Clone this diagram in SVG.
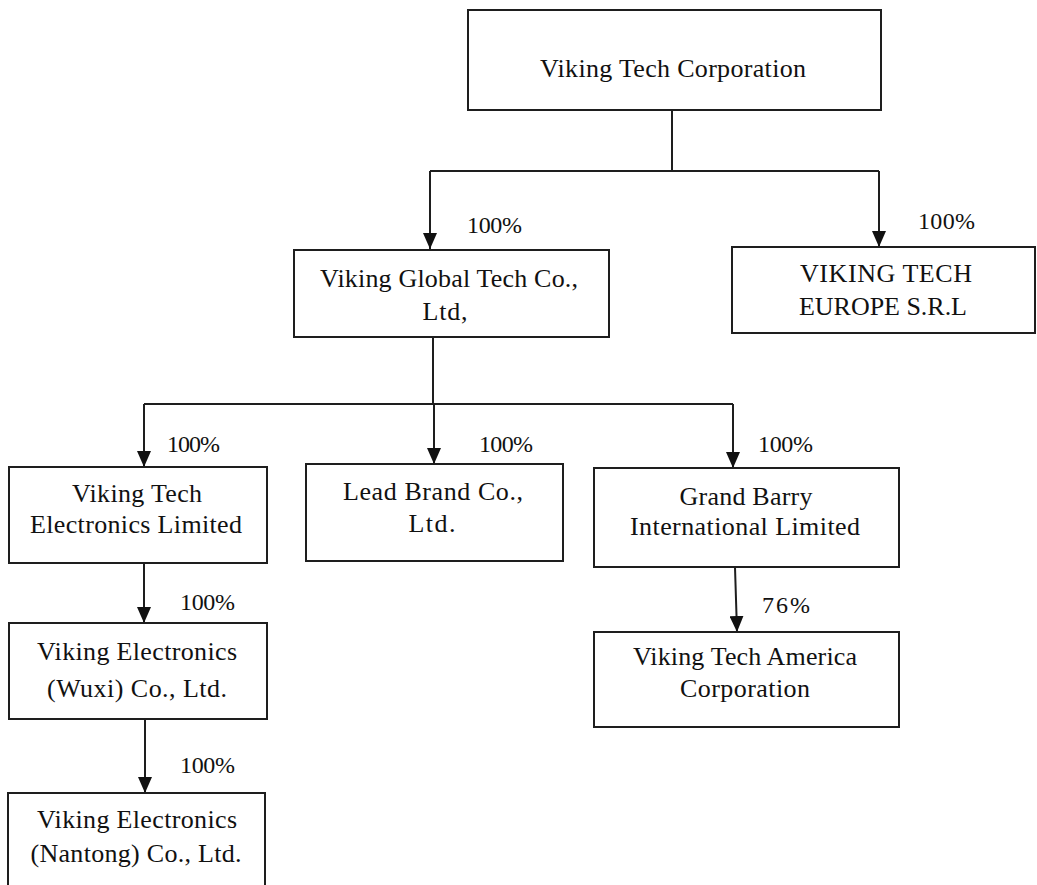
<svg xmlns="http://www.w3.org/2000/svg" width="1037" height="885" viewBox="0 0 1037 885">
<style>
  .box { fill: #ffffff; stroke: #1e1e1e; stroke-width: 2; }
  .t { font-family: "Liberation Serif", "Times New Roman", serif; font-size: 26px; fill: #111111; text-anchor: middle; }
  .p { font-family: "Liberation Serif", "Times New Roman", serif; font-size: 24px; fill: #111111; }
  .c { fill: none; stroke: #1e1e1e; stroke-width: 2; }
</style>
<defs>
  <marker id="arr" viewBox="0 -7 16 14" refX="16" refY="0" markerWidth="16" markerHeight="14" markerUnits="userSpaceOnUse" orient="auto">
    <path d="M0,-7 L16,0 L0,7 Z" fill="#111111"/>
  </marker>
</defs>
<rect width="1037" height="885" fill="#ffffff"/>

<g id="connectors">
  <path class="c" d="M672,110 V171 M430,171 H879"/>
  <path class="c" d="M430,171 V249" marker-end="url(#arr)"/>
  <path class="c" d="M879,171 V247" marker-end="url(#arr)"/>
  <path class="c" d="M433,337 V404 M144,404 H733"/>
  <path class="c" d="M144,404 V467" marker-end="url(#arr)"/>
  <path class="c" d="M434,404 V464" marker-end="url(#arr)"/>
  <path class="c" d="M733,404 V468" marker-end="url(#arr)"/>
  <path class="c" d="M144,563 V623" marker-end="url(#arr)"/>
  <path class="c" d="M145,719 V793" marker-end="url(#arr)"/>
  <path class="c" d="M735,567 L737,632" marker-end="url(#arr)"/>
  <text class="p" x="467" y="233" textLength="55">100%</text>
  <text class="p" x="918" y="229" textLength="57">100%</text>
  <text class="p" x="167" y="452" textLength="53">100%</text>
  <text class="p" x="479" y="452" textLength="54">100%</text>
  <text class="p" x="758" y="452" textLength="55">100%</text>
  <text class="p" x="180" y="610" textLength="55">100%</text>
  <text class="p" x="180" y="773" textLength="55">100%</text>
  <text class="p" x="762" y="613" textLength="48">76%</text>
</g>

<g id="viking-tech-corporation">
  <rect class="box" x="468" y="10" width="413" height="100"/>
  <text class="t" x="673" y="77" textLength="266">Viking Tech Corporation</text>
</g>

<g id="viking-global-tech">
  <rect class="box" x="294" y="250" width="315" height="87"/>
  <text class="t" x="449" y="287" textLength="258">Viking  Global Tech Co.,</text>
  <text class="t" x="445" y="320" textLength="45">Ltd,</text>
</g>

<g id="viking-tech-europe">
  <rect class="box" x="732" y="247" width="303" height="86"/>
  <text class="t" x="886" y="282" textLength="172">VIKING TECH</text>
  <text class="t" x="883" y="315" textLength="168">EUROPE S.R.L</text>
</g>

<g id="viking-tech-electronics">
  <rect class="box" x="9" y="467" width="258" height="96"/>
  <text class="t" x="137" y="502" textLength="130">Viking Tech</text>
  <text class="t" x="136" y="533" textLength="212">Electronics Limited</text>
</g>

<g id="lead-brand">
  <rect class="box" x="306" y="464" width="257" height="97"/>
  <text class="t" x="433" y="500" textLength="180">Lead Brand Co.,</text>
  <text class="t" x="432" y="532" textLength="47">Ltd.</text>
</g>

<g id="grand-barry">
  <rect class="box" x="594" y="468" width="305" height="99"/>
  <text class="t" x="746" y="505" textLength="133">Grand Barry</text>
  <text class="t" x="745" y="535" textLength="230">International Limited</text>
</g>

<g id="viking-electronics-wuxi">
  <rect class="box" x="9" y="623" width="258" height="96"/>
  <text class="t" x="137" y="660" textLength="200">Viking Electronics</text>
  <text class="t" x="137" y="697" textLength="180">(Wuxi) Co., Ltd.</text>
</g>

<g id="viking-electronics-nantong">
  <rect class="box" x="8" y="793" width="257" height="110"/>
  <text class="t" x="137" y="828" textLength="200">Viking Electronics</text>
  <text class="t" x="136" y="862" textLength="211">(Nantong) Co., Ltd.</text>
</g>

<g id="viking-tech-america">
  <rect class="box" x="594" y="632" width="305" height="95"/>
  <text class="t" x="745" y="665" textLength="224">Viking Tech America</text>
  <text class="t" x="745" y="697" textLength="130">Corporation</text>
</g>
</svg>
